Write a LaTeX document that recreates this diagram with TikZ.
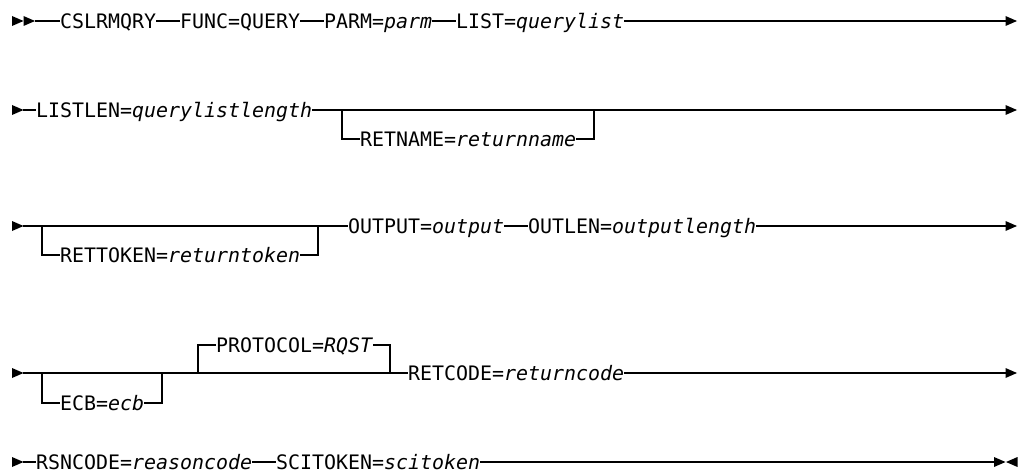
\documentclass[tikz,border=0pt]{standalone}
\usepackage{fontspec}
\newfontfamily\rrfont{DejaVu Sans Mono}[ItalicFont={DejaVu Sans Mono Oblique}]
\newcommand{\rr}{\rrfont\fontsize{19.93pt}{24pt}\selectfont}
\tikzset{
  kw/.style={anchor=west, inner sep=0pt, text height=18pt, text depth=3.4pt, font=\rr},
  ln/.style={line width=1.2pt},
}
\newcommand{\rtri}[2]{\fill (#1,#2-5) -- (#1+11.5,#2) -- (#1,#2+5) -- cycle;}
\newcommand{\ltri}[2]{\fill (#1+11.5,#2-5) -- (#1,#2) -- (#1+11.5,#2+5) -- cycle;}
\begin{document}
\begin{tikzpicture}[x=1pt,y=-1pt]
\useasboundingbox (0,0) rectangle (1019,473);
% ---------- Row 1 ----------
\rtri{12}{21}\rtri{23.5}{21}
\coordinate (r1s) at (35,21);
\node[kw] (cslr) at (60,21) {CSLRMQRY};
\node[kw] (func) at (180,21) {FUNC=QUERY};
\node[kw] (parm) at (324,21) {PARM=\textit{parm}};
\node[kw] (list) at (456,21) {LIST=\textit{querylist}};
\coordinate (r1e) at (1006,21);
\draw[ln] (r1s) -- (cslr.west);
\draw[ln] (cslr.east) -- (func.west);
\draw[ln] (func.east) -- (parm.west);
\draw[ln] (parm.east) -- (list.west);
\draw[ln] (list.east) -- (r1e);
\rtri{1005.5}{21}
% ---------- Row 2 ----------
\rtri{12}{110}
\coordinate (r2s) at (23,110);
\node[kw] (listlen) at (36,110) {LISTLEN=\textit{querylistlength}};
\coordinate (r2e) at (1006,110);
\coordinate (b2a) at (342,110);
\coordinate (b2b) at (594,110);
\node[kw] (retname) at (360,139) {RETNAME=\textit{returnname}};
\draw[ln] (r2s) -- (listlen.west);
\draw[ln] (listlen.east) -- (r2e);
\draw[ln] (b2a) |- (retname.west);
\draw[ln] (retname.east) -| (b2b);
\rtri{1005.5}{110}
% ---------- Row 3 ----------
\rtri{12}{226}
\coordinate (r3s) at (23,226);
\coordinate (b3a) at (42,226);
\coordinate (b3b) at (318,226);
\node[kw] (rettoken) at (60,255) {RETTOKEN=\textit{returntoken}};
\node[kw] (output) at (348,226) {OUTPUT=\textit{output}};
\node[kw] (outlen) at (528,226) {OUTLEN=\textit{outputlength}};
\coordinate (r3e) at (1006,226);
\draw[ln] (r3s) -- (output.west);
\draw[ln] (b3a) |- (rettoken.west);
\draw[ln] (rettoken.east) -| (b3b);
\draw[ln] (output.east) -- (outlen.west);
\draw[ln] (outlen.east) -- (r3e);
\rtri{1005.5}{226}
% ---------- Row 4 ----------
\rtri{12}{373}
\coordinate (r4s) at (23,373);
\coordinate (b4a) at (42,373);
\coordinate (b4b) at (162,373);
\coordinate (b4c) at (198,373);
\coordinate (b4d) at (390,373);
\node[kw] (ecb) at (60,403) {ECB=\textit{ecb}};
\node[kw] (proto) at (216,345) {PROTOCOL=\textit{RQST}};
\node[kw] (retcode) at (408,373) {RETCODE=\textit{returncode}};
\coordinate (r4e) at (1006,373);
\draw[ln] (r4s) -- (retcode.west);
\draw[ln] (b4a) |- (ecb.west);
\draw[ln] (ecb.east) -| (b4b);
\draw[ln] (b4c) |- (proto.west);
\draw[ln] (proto.east) -| (b4d);
\draw[ln] (retcode.east) -- (r4e);
\rtri{1005.5}{373}
% ---------- Row 5 ----------
\rtri{12}{462}
\coordinate (r5s) at (23,462);
\node[kw] (rsn) at (36,462) {RSNCODE=\textit{reasoncode}};
\node[kw] (sci) at (276,462) {SCITOKEN=\textit{scitoken}};
\coordinate (r5e) at (995,462);
\draw[ln] (r5s) -- (rsn.west);
\draw[ln] (rsn.east) -- (sci.west);
\draw[ln] (sci.east) -- (r5e);
\rtri{994}{462}\ltri{1006}{462}
\end{tikzpicture}
\end{document}
